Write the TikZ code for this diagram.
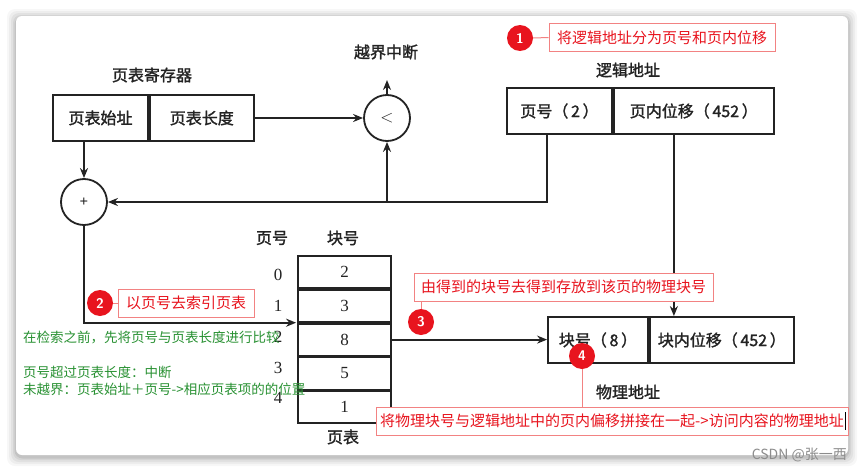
\documentclass[tikz,border=0pt]{standalone}
\usepackage{fontspec}
\setmainfont{Liberation Serif}
\newfontfamily\cjk{Noto Sans CJK SC}
\newfontfamily\cjkb[FakeBold=1.6]{Noto Sans CJK SC}
\usetikzlibrary{arrows.meta,calc}
\definecolor{annred}{RGB}{232,20,30}
\definecolor{annpink}{RGB}{242,130,130}
\definecolor{anngreen}{RGB}{40,145,50}
\definecolor{ink}{RGB}{35,35,35}
\begin{document}
\begin{tikzpicture}[x=1pt,y=-1pt,
  cell/.style={draw=ink,line width=1.8pt,minimum height=46pt,inner sep=0pt,font=\cjkb\fontsize{16}{16}\selectfont,text=ink},
  trow/.style={draw=ink,line width=1.8pt,minimum width=93pt,minimum height=32pt,inner sep=0pt,font=\fontsize{17}{17}\selectfont,text=ink},
  opc/.style={circle,draw=ink,line width=1.8pt,minimum size=46pt,inner sep=0pt,text=ink},
  lbl/.style={font=\cjkb\fontsize{16}{16}\selectfont,text=ink,inner sep=0pt},
  idx/.style={font=\fontsize{17}{17}\selectfont,text=ink,inner sep=0pt},
  conn/.style={draw=ink,line width=1.8pt},
  arr/.style={conn,-{Stealth[length=10pt,width=8pt]}},
  badge/.style={circle,fill=annred,minimum size=26pt,inner sep=0pt,text=white,font=\sffamily\bfseries\fontsize{14}{14}\selectfont},
  annbox/.style={draw=annpink,line width=1pt,fill=white,minimum height=28pt,inner sep=0pt,text=annred,font=\cjk\fontsize{15}{15}\selectfont},
  annline/.style={draw=annpink,line width=1pt},
  gtext/.style={anchor=west,inner sep=0pt,text=anngreen,font=\cjk\fontsize{13.5}{13.5}\selectfont}
]
\useasboundingbox (0,0) rectangle (865,471);
% card with soft shadow
\foreach \s/\o in {9/0.03,7/0.04,5/0.05,3/0.06,1.5/0.08}{
  \fill[black,opacity=\o,rounded corners=8pt] (16-\s,16-\s+2) rectangle (848+\s,455+\s+2);
}
\fill[white,rounded corners=6pt] (16,16) rectangle (848,455);

% page-table register
\node[lbl] (regl) at (152,75) {页表寄存器};
\node[cell,minimum width=95pt] (r1) at (100.5,118) {页表始址};
\node[cell,minimum width=104pt,anchor=west] (r2) at (r1.east) {页表长度};

% compare and adder
\node[opc,font=\fontsize{17}{17}\selectfont] (cmp) at (387,118) {$<$};
\node[lbl] (intr) at (386,52) {越界中断};
\coordinate (intrtip) at (387,80);
\node[opc,font=\bfseries\fontsize{15}{15}\selectfont] (plus) at (84,202) {+};

% logical address
\node[lbl] (logl) at (628,70) {逻辑地址};
\node[cell,minimum width=105pt] (l1) at (559.5,111) {{\cjkb 页号（}\,2\,{\cjkb ）}};
\node[cell,minimum width=160pt,anchor=west] (l2) at (l1.east) {{\cjkb 页内位移（}\,452\,{\cjkb ）}};

% page table
\node[lbl] (hpg) at (272,238) {页号};
\node[lbl] (hblk) at (343,238) {块号};
\node[trow] (t0) at (344.5,272) {2};
\node[trow,anchor=north] (t1) at (t0.south) {3};
\node[trow,anchor=north] (t2) at (t1.south) {8};
\node[trow,anchor=north] (t3) at (t2.south) {5};
\node[trow,anchor=north] (t4) at (t3.south) {1};
\node[idx] (i0) at (278,275) {0};
\node[idx] (i1) at (278,306) {1};
\node[idx] (i2) at (278,337) {2};
\node[idx] (i3) at (278,368) {3};
\node[idx] (i4) at (278,398) {4};
\node[lbl] (ptl) at (343,437) {页表};

% physical address
\node[cell,minimum width=100pt] (p1) at (598,340) {{\cjkb 块号（}\,8\,{\cjkb ）}};
\node[cell,minimum width=144pt,anchor=west] (p2) at (p1.east) {{\cjkb 块内位移（}\,452\,{\cjkb ）}};
\node[lbl] (phl) at (628,392) {物理地址};

% connectors
\draw[arr] (r2.east) -- (cmp.west);
\draw[arr] (cmp.north) -- (intrtip);
\draw[arr] (r1.south -| plus) -- (plus.north);
\coordinate (lpn) at ([xshift=41pt]l1.south west);
\coordinate (j1) at (lpn |- plus);
\draw[arr] (lpn) -- (j1) -- (plus.east);
\draw[arr] (cmp |- j1) -- (cmp.south);
\draw[arr] (plus.south) -- (plus |- t2.north west) -- ([xshift=-1pt]t2.north west);
\draw[arr] (t2.east) -- (t2.east -| p1.west);
\coordinate (loff) at ([xshift=61pt]l2.south west);
\draw[arr] (loff) -- (loff |- p2.north);

% green notes
\node[gtext] (g1) at (23,338) {在检索之前，先将页号与页表长度进行比较};
\node[gtext] (g2) at (23,372) {页号超过页表长度：中断};
\node[gtext] (g3) at (23,389) {未越界：页表始址＋页号->相应页表项的的位置};

% annotations
\node[badge] (c1) at (520,38) {1};
\node[annbox,minimum width=226pt] (a1) at (662,37.5) {将逻辑地址分为页号和页内位移};
\draw[annline] (c1.east) -- (a1.west);

\node[badge] (c2) at (100,303) {2};
\node[annbox,minimum width=136pt] (a2) at (186,303) {以页号去索引页表};
\draw[annline] (c2.east) -- (a2.west);

\node[annbox,minimum width=299pt] (a3) at (563.5,287) {由得到的块号去得到存放到该页的物理块号};
\node[badge] (c3) at (421,322) {3};
\draw[annline] (a3.south -| c3) -- (c3.north);

\node[badge] (c4) at (582,356) {4};
\node[annbox,minimum width=472pt] (a4) at (612,421) {将物理块号与逻辑地址中的页内偏移拼接在一起->访问内容的物理地址};
\draw[annline] (c4.south) -- (c4 |- a4.north);
\coordinate (cur1) at (845.5,412);
\coordinate (cur2) at (845.5,430);
\draw[black,line width=0.8pt] (cur1) -- (cur2);

% watermark
\node[anchor=east,inner sep=0pt,text=black!45,font=\cjk\fontsize{14}{14}\selectfont] (wm) at (847,455) {CSDN @张一西};
\end{tikzpicture}
\end{document}
